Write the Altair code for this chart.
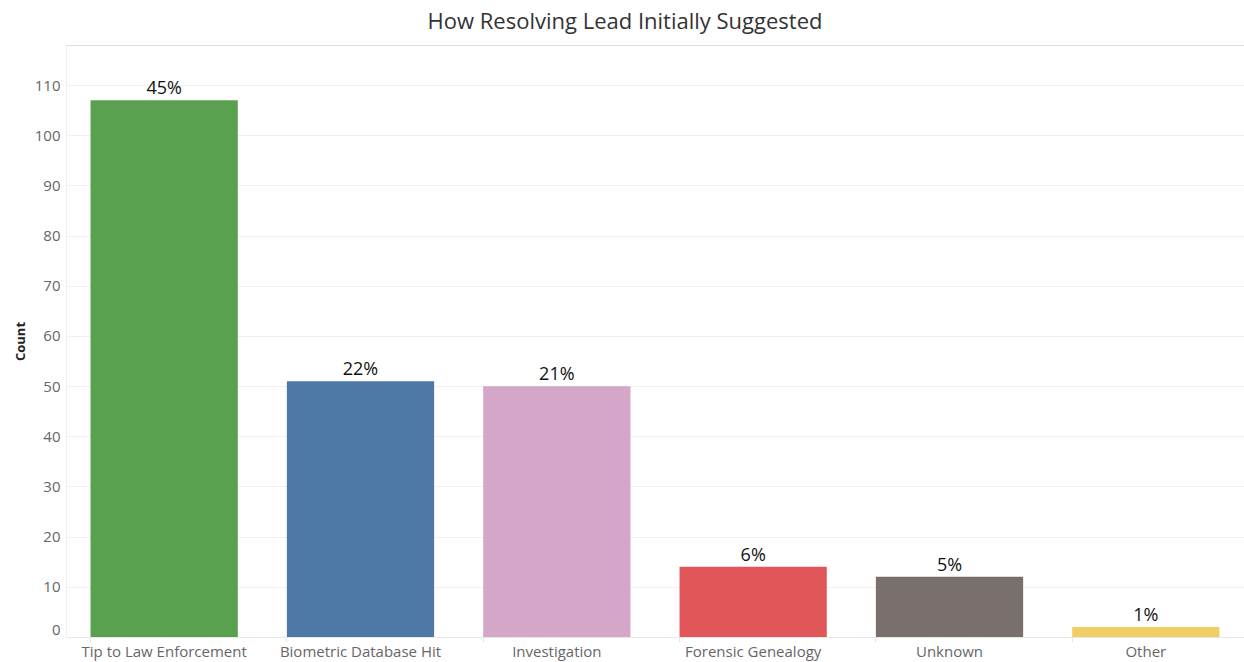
import altair as alt
import pandas as pd

# How the resolving lead was first suggested, with case counts
categories = [
    "Tip to Law Enforcement",
    "Biometric Database Hit",
    "Investigation",
    "Forensic Genealogy",
    "Unknown",
    "Other",
]
counts = [107, 51, 50, 14, 12, 2]
colors = ["#59A14F", "#4E79A7", "#D4A6C8", "#E15759", "#79706E", "#F1CE63"]
y_ticks = list(range(0, 111, 10))

df = pd.DataFrame({"category": categories, "count": counts})

FONT = "Open Sans"

x_enc = alt.X(
    "category:N",
    sort=categories,
    title=None,
    scale=alt.Scale(paddingInner=0.25, paddingOuter=0.125),
    axis=alt.Axis(
        labelAngle=0,
        labelFontSize=15,
        labelColor="#666666",
        labelFont=FONT,
        labelPadding=2,
        domainColor="#e8e8e8",
        tickColor="#e8e8e8",
        tickSize=5,
        bandPosition=0,
        grid=False,
    ),
)

y_enc = alt.Y(
    "count:Q",
    title="Count",
    scale=alt.Scale(domain=[0, 118], nice=False),
    axis=alt.Axis(
        values=y_ticks,
        labelFontSize=15,
        labelColor="#666666",
        labelFont=FONT,
        labelPadding=6,
        labelBaseline={"condition": {"test": "datum.value == 0", "value": "bottom"}, "value": "middle"},
        ticks=False,
        domainColor="#f0f0f0",
        gridColor="#f0f0f0",
        titleFont=FONT,
        titleFontSize=13,
        titleFontWeight="bold",
        titleColor="#222222",
        titlePadding=7,
    ),
)

base = alt.Chart(df).transform_joinaggregate(
    total="sum(count)"
).transform_calculate(
    share="datum.count / datum.total"
)

bars = base.mark_bar().encode(
    x=x_enc,
    y=y_enc,
    color=alt.Color(
        "category:N",
        scale=alt.Scale(domain=categories, range=colors),
        legend=None,
    ),
)

labels = base.mark_text(
    baseline="bottom", dy=-2, fontSize=18, font=FONT, color="#111111"
).encode(
    x=alt.X("category:N", sort=categories),
    y=alt.Y("count:Q"),
    text=alt.Text("share:Q", format=".0%"),
)

chart = (
    alt.layer(bars, labels)
    .properties(
        width=1178,
        height=592,
        title=alt.TitleParams(
            "How Resolving Lead Initially Suggested",
            font=FONT,
            fontSize=22,
            fontWeight="normal",
            color="#333333",
            anchor="middle",
            dx=-30,
            offset=11,
        ),
        padding={"left": 66, "top": 45, "right": 0, "bottom": 25},
        autosize=alt.AutoSizeParams(type="none"),
    )
    .configure_view(stroke=None)
    .configure(background="white")
)

chart.save("out.html", embed_options={"renderer": "svg", "actions": False})
